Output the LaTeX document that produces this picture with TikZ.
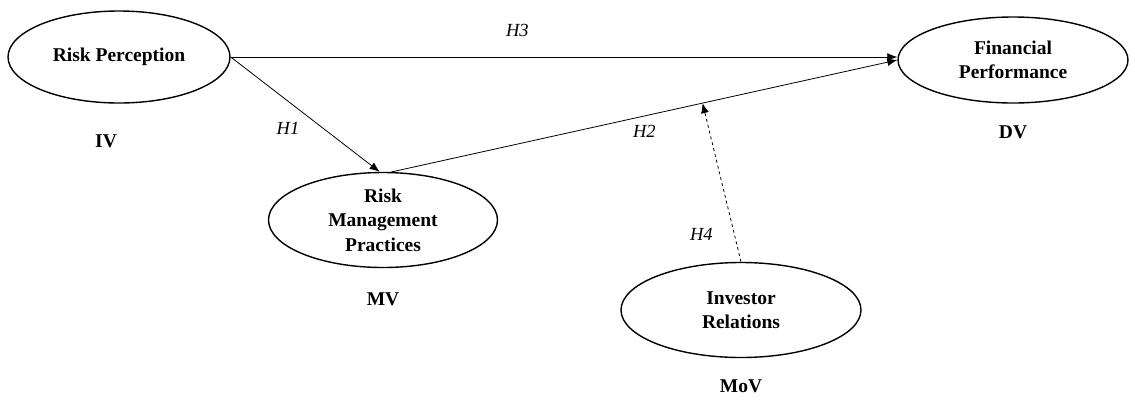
\documentclass[tikz,border=0pt]{standalone}
\usepackage{fontspec}
\setmainfont{Liberation Serif}
\usetikzlibrary{arrows.meta,shapes.geometric}
\begin{document}
\begin{tikzpicture}[x=1pt,y=-1pt,
  latent/.style={draw,line width=1.4pt,ellipse,minimum width=#1,inner sep=0pt,align=center,font=\fontsize{19.5}{24.5}\selectfont\bfseries},
  tag/.style={font=\fontsize{19.5}{23}\selectfont\bfseries},
  hyp/.style={font=\fontsize{18.5}{22}\selectfont\itshape},
  path/.style={line width=0.8pt,-{Latex[length=10pt,width=8pt]}}]
\useasboundingbox (0,0) rectangle (1135,400);
\node[latent=222pt,minimum height=92pt] (rp) at (119,57) {Risk Perception};
\node[latent=230pt,minimum height=86pt] (fp) at (1013,60) {Financial\\Performance};
\node[latent=229pt,minimum height=95pt] (rmp) at (383,220) {Risk\\Management\\Practices};
\node[latent=240pt,minimum height=95pt] (ir) at (741,310) {Investor\\Relations};
\node[tag] (iv) at (106,141) {IV};
\node[tag] (mv) at (383,299) {MV};
\node[tag] (dv) at (1013,132) {DV};
\node[tag] (mov) at (741,386) {MoV};
\draw[path] (rp.east) -- (fp.west |- rp.east) node[hyp,pos=0.43,above=17pt] (h3) {H3};
\draw[path] (rp.east) -- (rmp.94) node[hyp,pos=0.62,left=20pt] (h1) {H1};
\draw[path] (rmp.80) -- (fp.west) coordinate[pos=0.615] (m) node[hyp,pos=0.5,below=6pt] (h2) {H2};
\draw[path,dashed] (ir.north) -- (m) node[hyp,pos=0.17,left=18pt] (h4) {H4};
\end{tikzpicture}
\end{document}
